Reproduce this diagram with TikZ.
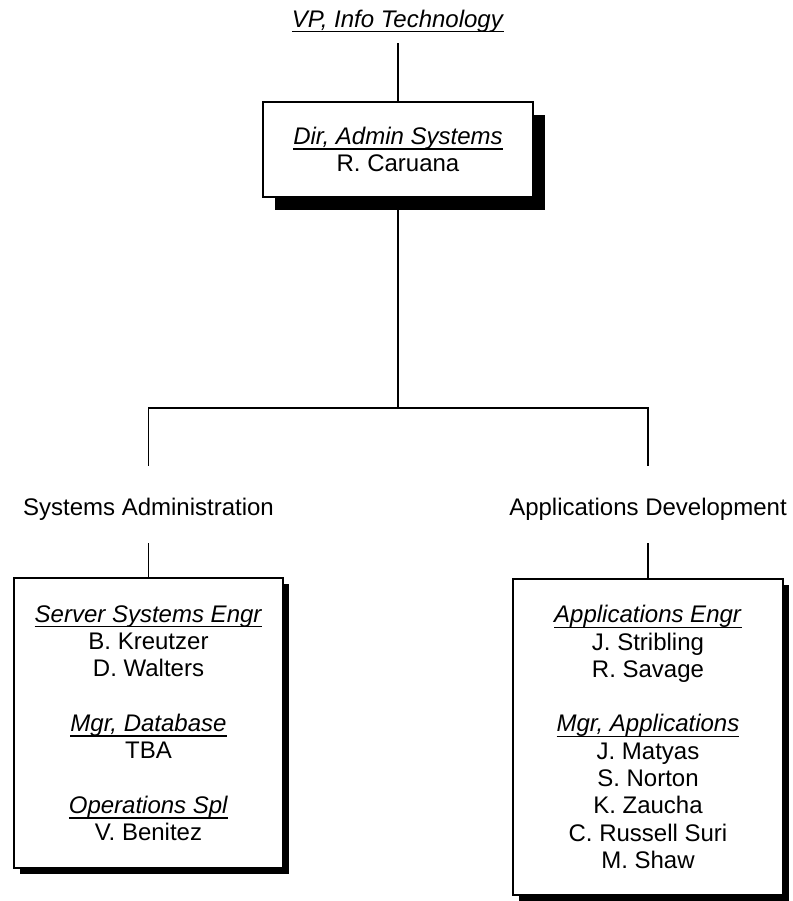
\documentclass[tikz,border=0pt]{standalone}
\usepackage{fontspec}
\setmainfont{Liberation Sans}
\usepackage{tikz}
\usetikzlibrary{shadows, positioning, calc}

% italic title with a fixed-depth underline
\newcommand{\postitle}[1]{\sbox0{\textit{#1}}\rlap{\rule[-2.7pt]{\wd0}{0.75pt}}\usebox0}

\begin{document}
\begin{tikzpicture}[x=0.5pt, y=-0.5pt,
    every node/.style={font=\fontsize{12}{13.65}\selectfont},
    orgbox/.style={draw, fill=white, line width=0.7pt, align=center, inner sep=0pt},
    deptlabel/.style={anchor=base, inner ysep=0pt, text height=24.5pt, text depth=14pt},
    link/.style={line width=0.75pt}]
  \useasboundingbox (0,0) rectangle (793,901);

  % Top
  \node[anchor=base, inner ysep=0pt, text height=10pt, text depth=8pt] (vp) at (398,27)
    {\postitle{VP, Info Technology}};
  \node[orgbox, minimum width=135pt, minimum height=47.5pt,
        drop shadow={shadow xshift=6pt, shadow yshift=-6.5pt, fill=black, opacity=1}]
    (dir) at (398,149.5) {\postitle{Dir, Admin Systems}\\R. Caruana};
  \coordinate (hub) at (398,408);

  % Departments
  \node[deptlabel] (sysadm) at (148.5,515) {Systems Administration};
  \node[deptlabel] (appdev) at (648,515) {Applications Development};

  \node[orgbox, minimum width=134.5pt, minimum height=145pt,
        drop shadow={shadow xshift=2.75pt, shadow yshift=-2.75pt, fill=black, opacity=1}]
    (sysbox) at (148.5,723)
    {\postitle{Server Systems Engr}\\B. Kreutzer\\D. Walters\\[13.65pt]
     \postitle{Mgr, Database}\\TBA\\[13.65pt]
     \postitle{Operations Spl}\\V. Benitez};
  \node[orgbox, minimum width=135pt, minimum height=158pt,
        drop shadow={shadow xshift=2.75pt, shadow yshift=-2.75pt, fill=black, opacity=1}]
    (appbox) at (648,737)
    {\postitle{Applications Engr}\\J. Stribling\\R. Savage\\[13.65pt]
     \postitle{Mgr, Applications}\\J. Matyas\\S. Norton\\K. Zaucha\\C. Russell Suri\\M. Shaw};

  % Links
  \draw[link] (vp.south) -- (dir.north);
  \draw[link] (dir.south) -- (hub);
  \draw[link] (sysadm.north) |- (hub) -| (appdev.north);
  \draw[link] (sysadm.south) -- (sysbox.north);
  \draw[link] (appdev.south) -- (appbox.north);
\end{tikzpicture}
\end{document}
